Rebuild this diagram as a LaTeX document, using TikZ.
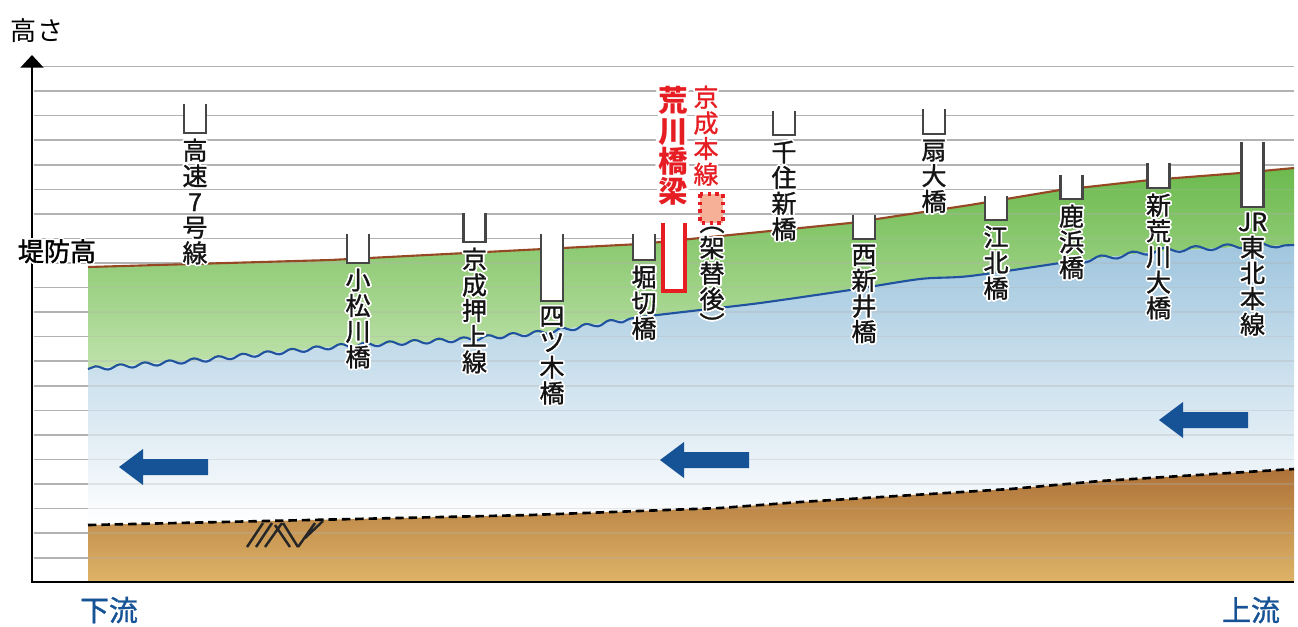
\documentclass[tikz,border=0pt]{standalone}
\usepackage{fontspec}
\setmainfont{Noto Sans CJK JP}
\newfontfamily\lblfont{Noto Sans CJK JP}[FakeBold=1.2]
\usepackage[copies]{contour}
\usepackage{tikz}
\usetikzlibrary{arrows.meta, decorations.pathmorphing}

\contourlength{0.45pt}
\contournumber{24}

\definecolor{gridgray}{RGB}{178,178,178}
\definecolor{piergray}{RGB}{70,70,70}
\definecolor{grass}{RGB}{108,186,78}
\definecolor{grasslight}{RGB}{192,226,172}
\definecolor{water}{RGB}{160,198,222}
\definecolor{soil}{RGB}{174,114,56}
\definecolor{soillight}{RGB}{222,180,104}
\definecolor{levee}{RGB}{150,72,36}
\definecolor{surface}{RGB}{32,82,160}
\definecolor{flowblue}{RGB}{22,82,150}
\definecolor{bridgered}{RGB}{230,30,36}
\definecolor{salmon}{RGB}{246,176,152}
\definecolor{ink}{RGB}{20,20,20}

% stacked (vertical) label with a white halo
\newcommand{\vtext}[1]{\contour{white}{\parbox{2.2em}{\selectfont\centering\lineskiplimit=-\maxdimen #1}}}

\tikzset{
  gridline/.style={gridgray, line width=0.45pt},
  pier/.style={piergray, line width=0.6pt},
  lbl/.style={inner sep=0pt, anchor=north, text=ink, font=\lblfont\fontsize{7.1}{7.3}\selectfont},
  waterline/.style={surface, line width=0.6pt},
  flow/.pic={\fill[flowblue] (0,0) -- (24,-18) -- (24,-8) -- (89,-8) -- (89,8) -- (24,8) -- (24,18) -- cycle;}
}

\begin{document}
\begin{tikzpicture}[x=0.01cm, y=-0.01cm]
    \useasboundingbox (0,0) rectangle (1298,626);

    % height grid
    \foreach \k in {0,...,20}
        \draw[gridline] (34,{66.5+24.56*\k}) -- (1294,{66.5+24.56*\k});

    % embankment between levee crown and water surface
    \shade[top color=grass, bottom color=grasslight]
        (88,267) -- (330,260) -- (640,244) -- (850,223) -- (970,205) -- (1060,190)
        -- (1150,180) -- (1240,173) -- (1294,168) -- (1294,245) -- (1240,247)
        -- (1150,252) -- (1060,263) -- (970,276) -- (920,279) -- (850,290) -- (760,303)
        -- (700,310) -- (640,317) -- (540,333) -- (460,340) -- (330,347) -- (200,360)
        -- (88,369) -- cycle;
    % river water
    \shade[top color=water, bottom color=white]
        (88,369) -- (200,360) -- (330,347) -- (460,340) -- (540,333) -- (640,317)
        -- (700,310) -- (760,303) -- (850,290) -- (920,279) -- (970,276) -- (1060,263)
        -- (1150,252) -- (1240,247) -- (1294,245) -- (1294,469) -- (1100,481)
        -- (1010,489) -- (800,502) -- (720,508) -- (530,515) -- (88,525) -- cycle;
    % river bed
    \shade[top color=soil, bottom color=soillight]
        (88,525) -- (530,515) -- (720,508) -- (800,502) -- (1010,489) -- (1100,481)
        -- (1294,469) -- (1294,582) -- (88,582) -- cycle;

    % grid seen through the fills
    \foreach \k in {0,...,20}
        \draw[gridline, opacity=0.3] (88,{66.5+24.56*\k}) -- (1294,{66.5+24.56*\k});

    % levee crown
    \draw[levee, line width=0.6pt] (88,267) -- (330,260) -- (640,244) -- (850,223)
        -- (970,205) -- (1060,190) -- (1150,180) -- (1240,173) -- (1294,168);
    % water surface
    \draw[waterline, decorate, decoration={snake, amplitude=0.6pt, segment length=7pt}]
        (88,369) -- (200,360) -- (330,347) -- (460,340) -- (540,333) -- (640,317);
    \draw[waterline] plot[smooth] coordinates {(640,317) (700,310) (760,303) (850,290)
        (920,279) (970,276) (1060,263)};
    \draw[waterline, decorate, decoration={snake, amplitude=0.7pt, segment length=9pt}]
        (1060,263) -- (1150,252) -- (1240,247) -- (1294,245);
    % bed level
    \draw[line width=0.75pt, dash pattern=on 2.4pt off 1.4pt]
        (88,525) -- (530,515) -- (720,508) -- (800,502) -- (1010,489) -- (1100,481) -- (1294,469);

    % bed symbol
    \draw[line width=0.7pt, black!85]
        (247,547) -- (263,523)  (256,547) -- (272,523)  (265,547) -- (282,523)
        (275,525) -- (290,547)  (283,523) -- (298,547)  (298,547) -- (315,523)
        (305,538) -- (323,521);

    % flow direction
    \pic at (119,467) {flow};
    \pic at (660,460) {flow};
    \pic at (1159,420) {flow};

    % axes
    \draw[line width=0.6pt] (31,582) -- (1294,582);
    \draw[line width=0.6pt, -{Triangle[width=6.5pt, length=3.6pt]}] (32,582) -- (32,55);

    % bridges
    \foreach \x/\t/\b/\lbl [count=\i] in {
        195/104/133/{高\\速\\7\\号\\線},
        358/234/263/{小\\松\\川\\橋},
        474.5/213/242/{京\\成\\押\\上\\線},
        552/234/301/{四\\ツ\\木\\橋},
        644/234/260/{堀\\切\\橋},
        784/111/135/{千\\住\\新\\橋},
        864/215/239/{西\\新\\井\\橋},
        934/109/134/{扇\\大\\橋},
        996/196/220/{江\\北\\橋},
        1071.5/175/199/{鹿\\浜\\橋},
        1158.5/163/188/{新\\荒\\川\\大\\橋},
        1252.5/142/207/{JR\\東\\北\\本\\線}} {
        \fill[white] (\x-11,\t) rectangle (\x+11,\b);
        \draw[pier] (\x-11,\t) -- (\x-11,\b) -- (\x+11,\b) -- (\x+11,\t);
        \node[lbl] (bridge\i) at (\x,\b+5) {\vtext{\lbl}};
    }

    % Keisei main line bridge, present and after rebuilding
    \fill[white] (663,223) rectangle (685,291);
    \draw[bridgered, line width=0.9pt] (663,223) -- (663,291) -- (685,291) -- (685,223);
    \draw[bridgered, fill=salmon, line width=1pt, dash pattern=on 1pt off 1.2pt]
        (700,194) rectangle (723,223);
    \node[lbl, text=bridgered, font=\bfseries\fontsize{8.4}{8.6}\selectfont] (keisei)
        at (673,86) {\contourlength{0.8pt}\vtext{荒\\川\\橋\\梁}};
    \node[lbl, text=bridgered] (keiseiline) at (706,85) {\vtext{京\\成\\本\\線}};
    \node[lbl] (rebuilt) at (712,226) {\vtext{︵\\架\\替\\後\\︶}};

    % axis labels
    \node[inner sep=0pt, font=\fontsize{7.4}{8}\selectfont] (height) at (37,31) {高さ};
    \node[inner sep=0pt, font=\lblfont\fontsize{7.4}{8}\selectfont] (dike) at (57,252) {\contour{white}{堤防高}};
    \node[inner sep=0pt, text=flowblue, font=\lblfont\fontsize{8.2}{9}\selectfont] (down) at (109,610) {下流};
    \node[inner sep=0pt, text=flowblue, font=\lblfont\fontsize{8.2}{9}\selectfont] (up) at (1251,610) {上流};
\end{tikzpicture}
\end{document}
